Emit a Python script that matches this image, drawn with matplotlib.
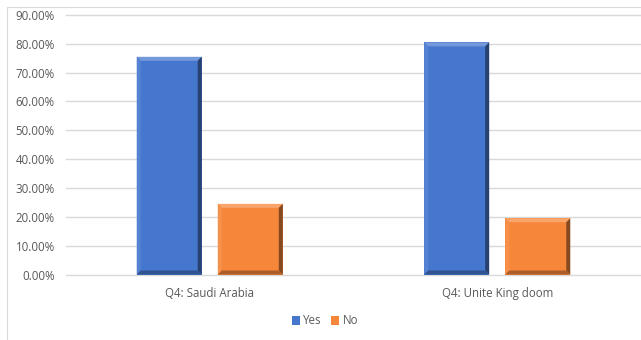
import numpy as np
import matplotlib.pyplot as plt
from matplotlib.patches import Polygon, Rectangle
from matplotlib.ticker import PercentFormatter
import matplotlib.colors as mcolors

categories = ["Q4: Saudi Arabia", "Q4: Unite King doom"]
series = ["Yes", "No"]
yes_vals = [0.755, 0.805]
no_vals = [0.245, 0.195]
colors = ["#4677CE", "#F5863A"]

plt.rcParams['font.family'] = ['Open Sans', 'DejaVu Sans']
fig = plt.figure(figsize=(6.41, 3.4), dpi=100)
fig.patches.append(Rectangle((7 / 641, -0.1), 1.1, 1 - 7 / 340 + 0.1, transform=fig.transFigure,
                             fill=False, edgecolor="#d9d9d9", linewidth=0.8))
ax = fig.add_axes([66 / 641, 1 - 274.5 / 340, 575 / 641, (274.5 - 15) / 340], frameon=False)
ax.set_xlim(-0.5, 1.5)
ax.set_ylim(0, 0.9)
ax.set_yticks(np.arange(0, 0.91, 0.1))
ax.yaxis.set_major_formatter(PercentFormatter(1.0, decimals=2))
ax.grid(axis="y", color="#d9d9d9", linewidth=1)
for gl in ax.get_ygridlines():
    gl.set_clip_on(False)
ax.set_axisbelow(True)
ax.tick_params(length=0, labelsize=8.3, labelcolor="#595959")
ax.tick_params(axis="y", pad=8)
ax.tick_params(axis="x", pad=9)
x = np.arange(len(categories))
ax.set_xticks(x, categories)

width = 0.226
offsets = [-0.141, 0.141]

# pixel -> data scale for bevel edges
fig.canvas.draw()
bb = ax.get_window_extent()
px_x = 2.0 / bb.width
px_y = 0.9 / bb.height


def shade(c, f):
    r, g, b = mcolors.to_rgb(c)
    if f > 0:
        return (r + (1 - r) * f, g + (1 - g) * f, b + (1 - b) * f)
    return (r * (1 + f), g * (1 + f), b * (1 + f))


def bevel_bar(xc, h, color, label=None):
    x0, x1 = xc - width / 2, xc + width / 2
    bx, by = 4 * px_x, 4 * px_y
    ax.add_patch(Rectangle((x0, 0), width, h, facecolor=color, edgecolor="none", label=label))
    ax.add_patch(Polygon([(x0, h), (x1, h), (x1 - bx, h - by), (x0 + bx, h - by)],
                         facecolor=shade(color, 0.25), edgecolor="none"))
    ax.add_patch(Polygon([(x0, 0), (x0, h), (x0 + bx, h - by), (x0 + bx, by)],
                         facecolor=shade(color, 0.08), edgecolor="none"))
    ax.add_patch(Polygon([(x1, 0), (x1, h), (x1 - bx, h - by), (x1 - bx, by)],
                         facecolor=shade(color, -0.45), edgecolor="none"))
    ax.add_patch(Polygon([(x0, 0), (x1, 0), (x1 - bx, by), (x0 + bx, by)],
                         facecolor=shade(color, -0.3), edgecolor="none"))


for i, c in enumerate(categories):
    bevel_bar(x[i] + offsets[0], yes_vals[i], colors[0], series[0] if i == 0 else None)
    bevel_bar(x[i] + offsets[1], no_vals[i], colors[1], series[1] if i == 0 else None)

leg = fig.legend(loc="center", bbox_to_anchor=(325 / 641, 1 - 321 / 340), ncol=2, frameon=False,
                 fontsize=8.3, handlelength=0.7, handleheight=0.7, handletextpad=0.3, columnspacing=0.8)
for t in leg.get_texts():
    t.set_color("#595959")

fig.savefig("out.png", dpi=100)
